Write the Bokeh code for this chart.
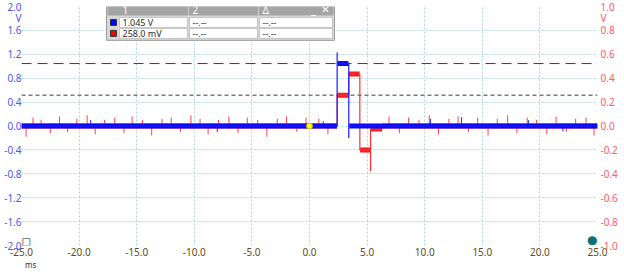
from bokeh.plotting import figure
from bokeh.models import Range1d, LinearAxis, FixedTicker, PrintfTickFormatter
from bokeh.core.properties import value
from bokeh.embed import file_html
from bokeh.resources import INLINE

# ---------------- data ----------------
time_ticks = [-25, -20, -15, -10, -5, 0, 5, 10, 15, 20, 25]
left_ticks = [-2.0, -1.6, -1.2, -0.8, -0.4, 0.0, 0.4, 0.8, 1.2, 1.6, 2.0]
right_ticks = [-1.0, -0.8, -0.6, -0.4, -0.2, 0.0, 0.2, 0.4, 0.6, 0.8, 1.0]
left_unit_pos, right_unit_pos = 1.8, 0.9
time_unit_pos = -24.2

# channel A (blue, left axis, V)
blue_t = [-25, 2.4, 2.4, 2.4, 3.41, 3.41, 3.41, 25]
blue_v = [0.0, 0.0, 1.23, 1.045, 1.045, -0.2, 0.0, 0.0]
blue_lvl_t0 = [-25, 2.45, 3.45]
blue_lvl_t1 = [2.38, 3.38, 25]
blue_lvl_v = [0.0, 1.045, 0.0]
blue_spike_t = [-19.0, -8.0, 1.2, 10.5, 13.2, 19.0, 22.0]
blue_spike_v = [0.10, -0.10, 0.08, 0.12, 0.15, 0.10, -0.09]

# channel B (red, right axis, V)
red_t = [-25, 2.4, 2.4, 3.41, 3.41, 4.37, 4.37, 5.3, 5.3, 5.3, 6.3, 6.3, 25]
red_v = [0.0, 0.0, 0.258, 0.258, 0.435, 0.435, -0.2, -0.2, -0.378, -0.025, -0.025, 0.0, 0.0]
red_lvl_t0 = [-25, 2.42, 3.43, 4.39, 5.32, 6.3]
red_lvl_t1 = [2.38, 3.39, 4.35, 5.28, 6.3, 25]
red_lvl_v = [0.0, 0.258, 0.435, -0.2, -0.025, 0.0]
red_spike_t = [-24.6, -24.0, -23.3, -22.5, -21.7, -21.0, -20.2, -19.3, -18.6, -17.8,
               -16.9, -16.1, -15.4, -14.5, -13.7, -12.8, -12.0, -11.2, -10.3, -9.5,
               -8.8, -7.9, -7.0, -6.2, -5.4, -4.5, -3.7, -2.8, -2.0, -1.1,
               -0.3, 0.8, 1.6, 6.9, 7.8, 8.6, 9.5, 10.4, 11.2, 12.1,
               12.9, 13.8, 14.6, 15.5, 16.3, 17.2, 18.0, 18.9, 19.7, 20.6,
               21.4, 22.3, 23.1, 24.0, 24.7]
red_spike_v = [-0.09, 0.07, 0.05, -0.06, 0.08, -0.05, 0.06, 0.09, -0.07, 0.05,
               0.07, -0.06, 0.08, 0.05, -0.08, 0.06, 0.07, -0.05, 0.09, 0.06,
               -0.07, 0.05, 0.08, -0.06, 0.07, 0.05, -0.09, 0.06, 0.08, -0.05,
               0.07, 0.06, -0.07, 0.08, -0.06, 0.07, 0.05, 0.09, -0.07, 0.06,
               0.08, -0.05, 0.07, -0.08, 0.06, 0.09, -0.06, 0.07, 0.05, -0.07,
               0.08, -0.05, 0.06, 0.07, -0.08]

cursor_a = 1.045   # V, left axis
cursor_b = 0.258   # V, right axis
table_header = ["1", "2", "\u0394"]
table_rows = [["1.045 V", "--.--", "--.--"], ["258.0 mV", "--.--", "--.--"]]

# ---------------- figure ----------------
BLUE_TXT = "#5252f2"
RED_TXT = "#ff5a6a"
X_TXT = "#5e4c22"
FONT = "Noto Sans"

p = figure(width=624, height=272, x_range=Range1d(-25, 25), y_range=Range1d(-2, 2),
           output_backend="svg", toolbar_location=None,
           min_border_left=21, min_border_right=27, min_border_top=6, min_border_bottom=26)
p.outline_line_color = None
p.background_fill_color = "white"
p.border_fill_color = "white"
p.extra_y_ranges = {"right": Range1d(-1, 1)}

def style_axis(ax, ticks, color, size="10px", standoff=2):
    ax.ticker = FixedTicker(ticks=ticks)
    ax.formatter = PrintfTickFormatter(format="%.1f")
    ax.axis_line_color = None
    ax.major_tick_line_color = None
    ax.minor_tick_line_color = None
    ax.major_tick_out = 0
    ax.major_tick_in = 0
    ax.minor_tick_out = 0
    ax.minor_tick_in = 0
    ax.major_label_text_color = color
    ax.major_label_text_font = FONT
    ax.major_label_text_font_size = size
    ax.major_label_standoff = standoff

style_axis(p.xaxis[0], time_ticks, X_TXT, standoff=2)

style_axis(p.yaxis[0], left_ticks + [left_unit_pos], BLUE_TXT, standoff=0)
p.yaxis[0].major_label_overrides = {left_unit_pos: "V"}

raxis = LinearAxis(y_range_name="right")
style_axis(raxis, right_ticks + [right_unit_pos], RED_TXT, standoff=3)
raxis.major_label_overrides = {right_unit_pos: "V"}
p.add_layout(raxis, "right")

unit_axis = LinearAxis()
style_axis(unit_axis, [time_unit_pos], "#333333", size="8px", standoff=0)
unit_axis.major_label_overrides = {time_unit_pos: "ms"}
p.add_layout(unit_axis, "below")

for g, t in ((p.xgrid[0], time_ticks), (p.ygrid[0], left_ticks)):
    g.ticker = FixedTicker(ticks=t)
    g.grid_line_color = "#a9d3e6"
    g.grid_line_dash = "2 2"
    g.grid_line_width = 1

# cursor lines
p.line([-25, 25], [cursor_a, cursor_a], line_color="#3a3a3a", line_dash="10 6", line_width=1)
p.line([-25, 25], [cursor_b, cursor_b], y_range_name="right", line_color="#3a3a3a",
       line_dash="4 3", line_width=1)

# red trace (channel B)
p.segment(x0=red_spike_t, y0=[0] * len(red_spike_t), x1=red_spike_t, y1=red_spike_v,
          y_range_name="right", line_color="#ff4444", line_width=1)
p.segment(x0=red_lvl_t0, y0=red_lvl_v, x1=red_lvl_t1, y1=red_lvl_v, y_range_name="right",
          line_color="#f51c1c", line_width=5)
p.line(red_t, red_v, y_range_name="right", line_color="#ff3030", line_width=1.2)

# blue trace (channel A)
p.segment(x0=blue_spike_t, y0=[0] * len(blue_spike_t), x1=blue_spike_t, y1=blue_spike_v,
          line_color="#2a2aff", line_width=1)
p.segment(x0=blue_lvl_t0, y0=blue_lvl_v, x1=blue_lvl_t1, y1=blue_lvl_v,
          line_color="#0a0af5", line_width=5)
p.line(blue_t, blue_v, line_color="#1818ff", line_width=1.2)

# trigger marker
p.scatter(x=[0], y=[0], size=6, fill_color="#ffff20", line_color="#c8b400")

# corner markers (kept inside the frame)
p.text(x=[-25], y=[-2], text=["\u25a1"], text_color="#111111", text_font=value("DejaVu Sans"),
       text_font_size="10px", text_align="left", text_baseline="bottom", y_offset=1)
p.text(x=[25], y=[-2], text=["\u25cf"], text_color="#0e7272", text_font=value("DejaVu Sans"),
       text_font_size="12px", text_align="right", text_baseline="bottom", y_offset=1)

# ---------------- measurement table (overlay) ----------------
def tx(px):
    return -25 + (px - 21) * 50 / 576

def ty(py):
    return 2 - (py - 6) * 4 / 240

p.quad(left=[tx(106)], right=[tx(334)], top=[ty(2)], bottom=[ty(40)],
       fill_color="#d8d8d8", line_color="#9c9c9c")
p.quad(left=[tx(107)], right=[tx(333)], top=[ty(3)], bottom=[ty(15)],
       fill_color="#a4a4a4", line_color=None)
p.segment(x0=[tx(188), tx(258)], y0=[ty(3)] * 2, x1=[tx(188), tx(258)], y1=[ty(15)] * 2,
          line_color="#cfcfcf", line_width=1)
col_l = [119, 189, 259]
col_r = [187, 257, 332]
row_t = [17, 28]
row_b = [27, 38]
cl, cr, ct, cb = [], [], [], []
for r in range(2):
    for c in range(3):
        cl.append(tx(col_l[c])); cr.append(tx(col_r[c]))
        ct.append(ty(row_t[r])); cb.append(ty(row_b[r]))
p.quad(left=cl, right=cr, top=ct, bottom=cb, fill_color="white", line_color="#c4c4c4")
p.quad(left=[tx(110), tx(110)], right=[tx(116), tx(116)], top=[ty(19), ty(30)],
       bottom=[ty(25), ty(36)], fill_color=["#0000ff", "#ff0000"], line_color="#333333")
p.text(x=[tx(c + 3) for c in col_l], y=[ty(9.5)] * 3, text=table_header,
       text_color="white", text_font=value(FONT), text_font_size="10px",
       text_baseline="middle", text_align="left")
p.text(x=[tx(313), tx(325)], y=[ty(9.5), ty(9.5)], text=["_", "\u2715"],
       text_color="white", text_font=value("DejaVu Sans"), text_font_size="10px",
       text_baseline="middle", text_align="center")
tx_x, tx_y, tx_s = [], [], []
for r in range(2):
    for c in range(3):
        tx_x.append(tx(col_l[c] + 3)); tx_y.append(ty((row_t[r] + row_b[r]) / 2))
        tx_s.append(table_rows[r][c])
p.text(x=tx_x, y=tx_y, text=tx_s, text_color="#2a2a2a", text_font=value(FONT),
       text_font_size="9px", text_baseline="middle", text_align="left")

open("out.html", "w").write(file_html(p, INLINE))
